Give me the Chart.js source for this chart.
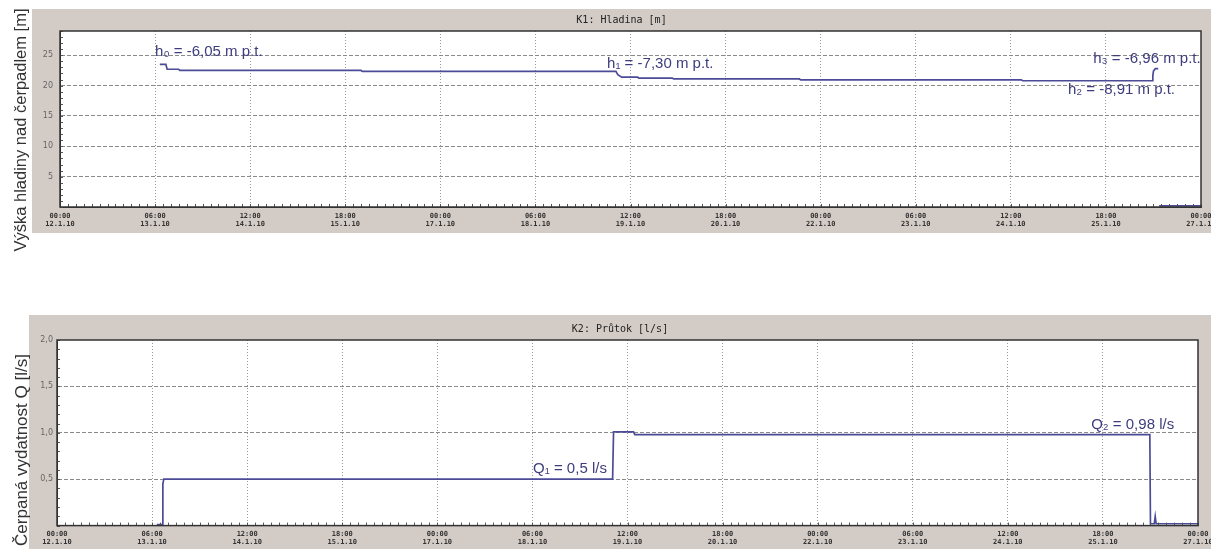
<!DOCTYPE html>
<html>
<head>
<meta charset="utf-8">
<script src="https://cdn.jsdelivr.net/npm/chart.js@4.4.1/dist/chart.umd.min.js"></script>
<style>
  body { margin: 0; background: #fff; width: 1211px; height: 549px; overflow: hidden; position: relative; }
  canvas { position: absolute; left: 0; }
  #c1 { top: 0; }
  #c2 { top: 290px; }
</style>
</head>
<body>
<canvas id="c1" width="1211" height="265"></canvas>
<canvas id="c2" width="1211" height="259"></canvas>
<script>
// x axis = hours since 12.1.10 00:00, labelled every 30 h
const tickTimes = ['00:00', '06:00', '12:00', '18:00', '00:00', '06:00', '12:00', '18:00', '00:00', '06:00', '12:00', '18:00', '00:00'];
const tickDates = ['12.1.10', '13.1.10', '14.1.10', '15.1.10', '17.1.10', '18.1.10', '19.1.10', '20.1.10', '22.1.10', '23.1.10', '24.1.10', '25.1.10', '27.1.10'];

// K1: water level above the pump [m]
const levelHours  = [31.5, 33.4, 33.8, 37.4, 37.8, 95.0, 95.4, 175.4, 176.0, 177.2, 182.2, 182.6, 193.2, 193.6, 233.3, 233.7, 303.3, 303.7, 344.6, 344.8, 345.0, 345.6, 346.5, 346.6, 346.8, 360];
const levelValues = [23.5, 23.5, 22.7, 22.7, 22.5, 22.5, 22.35, 22.35, 21.8, 21.4, 21.4, 21.25, 21.25, 21.1, 21.1, 20.95, 20.95, 20.8, 20.8, 21.6, 22.4, 22.8, 22.8, null, 0.2, 0.2];

// K2: pumped flow [l/s]
const flowHours  = [31.5, 33.2, 33.4, 33.7, 175.3, 175.6, 181.9, 182.3, 344.8, 345.0, 346.2, 346.5, 346.8, 360];
const flowValues = [0.01, 0.01, 0.45, 0.5, 0.5, 1.01, 1.01, 0.98, 0.98, 0.02, 0.02, 0.1, 0.02, 0.02];

const levelNotes = ['h₀ = -6,05 m p.t.', 'h₁ = -7,30 m p.t.', 'h₃ = -6,96 m p.t.', 'h₂ = -8,91 m p.t.'];
const flowNotes = ['Q₁ = 0,5 l/s', 'Q₂ = 0,98 l/s'];

const isStep = (v, s) => Math.abs(v / s - Math.round(v / s)) < 1e-6;

const plotFrame = {
  id: 'plotFrame',
  beforeDraw(chart, args, o) {
    const { ctx, chartArea: a } = chart;
    ctx.save();
    ctx.fillStyle = '#d3cbc6';
    ctx.fillRect(o.panelLeft, o.panelTop, chart.width - o.panelLeft, o.panelBottom - o.panelTop);
    ctx.fillStyle = '#fff';
    ctx.fillRect(a.left, a.top, a.width, a.height);
    ctx.fillStyle = '#222';
    ctx.font = '10px "DejaVu Sans Mono"';
    ctx.textAlign = 'center';
    ctx.textBaseline = 'middle';
    ctx.fillText(o.title, (o.panelLeft + chart.width) / 2, o.titleY);
    ctx.restore();
  },
  afterDraw(chart, args, o) {
    const { ctx, chartArea: a, scales: { x, y } } = chart;
    ctx.save();
    // small inward ticks
    ctx.strokeStyle = '#555';
    ctx.lineWidth = 1;
    ctx.beginPath();
    for (let v = x.min; v <= x.max + 1e-9; v += 2.5) {
      const px = Math.round(x.getPixelForValue(v)) + 0.5;
      ctx.moveTo(px, a.bottom);
      ctx.lineTo(px, a.bottom - 3);
    }
    for (let i = 0; i * o.yMinor <= y.max + 1e-9; i++) {
      const py = Math.round(y.getPixelForValue(i * o.yMinor)) + 0.5;
      ctx.moveTo(a.left, py);
      ctx.lineTo(a.left + 3, py);
    }
    ctx.stroke();
    // frame
    ctx.strokeStyle = '#333';
    ctx.lineWidth = 1.5;
    ctx.strokeRect(a.left, a.top, a.width, a.height);
    // notes
    ctx.fillStyle = '#3d3d7e';
    ctx.font = '15px "Liberation Sans"';
    ctx.textAlign = 'left';
    ctx.textBaseline = 'middle';
    o.notes.forEach((t, i) => {
      const p = o.notePos[i];
      ctx.fillText(t, x.getPixelForValue(p[0]), y.getPixelForValue(p[1]));
    });
    // outer y title
    ctx.translate(o.yTitleX, o.yTitleY);
    ctx.rotate(-Math.PI / 2);
    ctx.fillStyle = '#333';
    ctx.font = o.yTitleSize + 'px "Liberation Sans"';
    ctx.textAlign = 'center';
    ctx.fillText(o.yTitle, 0, 0);
    ctx.restore();
  }
};

function makeChart(id, c) {
  const data = c.hours.map((h, i) => ({ x: h, y: c.values[i] }));
  new Chart(document.getElementById(id), {
    type: 'line',
    data: {
      datasets: [{
        data: data,
        borderColor: '#4b4b98',
        borderWidth: 1.7,
        pointRadius: 0,
        tension: 0,
        spanGaps: false
      }]
    },
    options: {
      responsive: false,
      animation: false,
      layout: { padding: { top: c.top, right: c.right, left: 0, bottom: 0 } },
      plugins: {
        legend: { display: false },
        tooltip: { enabled: false },
        plotFrame: c.frame
      },
      scales: {
        x: {
          type: 'linear',
          min: 0,
          max: 360,
          afterFit: s => { s.height = c.xHeight; s.paddingLeft = 0; s.paddingRight = 0; },
          grid: {
            drawTicks: false,
            color: ctx => (ctx.tick && isStep(ctx.tick.value, 30) && ctx.tick.value > 0 && ctx.tick.value < 360) ? '#9a9a9a' : 'rgba(0,0,0,0)',
            borderDash: [1, 2]
          },
          border: { display: true, color: '#333', width: 1, dash: [1, 2] },
          ticks: {
            stepSize: 2.5,
            autoSkip: false,
            maxRotation: 0,
            minRotation: 0,
            padding: 5,
            color: '#333',
            font: { family: 'DejaVu Sans Mono', size: 7, weight: 'bold', lineHeight: 1.15 },
            callback: v => isStep(v, 30) ? [tickTimes[Math.round(v / 30)], tickDates[Math.round(v / 30)]] : ''
          }
        },
        y: {
          min: 0,
          max: c.yMax,
          afterFit: s => { s.width = c.yWidth; s.paddingTop = 0; s.paddingBottom = 0; },
          grid: {
            drawTicks: false,
            color: ctx => (ctx.tick && ctx.tick.value > 0 && ctx.tick.value < c.yMax - 1e-9 && isStep(ctx.tick.value, c.yStep)) ? '#8a8a8a' : 'rgba(0,0,0,0)',
            borderDash: [4, 2]
          },
          border: { display: true, color: '#333', width: 1, dash: [4, 2] },
          ticks: {
            stepSize: c.yStep,
            padding: c.yPad,
            color: '#666',
            font: { family: 'DejaVu Sans', size: 8 },
            callback: v => (v > 0 && isStep(v, c.yStep)) ? c.yFmt(v) : ''
          }
        }
      }
    },
    plugins: [plotFrame]
  });
}

makeChart('c1', {
  hours: levelHours, values: levelValues,
  top: 31, right: 10, xHeight: 58, yWidth: 60, yPad: 7,
  yMax: 29, yStep: 5,
  yFmt: v => String(v),
  frame: {
    panelLeft: 32, panelTop: 9, panelBottom: 233, titleY: 20,
    title: 'K1: Hladina [m]',
    yTitle: 'Výška hladiny nad čerpadlem [m]', yTitleX: 21, yTitleY: 130, yTitleSize: 16.5,
    yMinor: 1,
    notes: levelNotes,
    notePos: [[30, 25.6], [172.6, 23.6], [326, 24.4], [318, 19.3]]
  }
});

makeChart('c2', {
  hours: flowHours, values: flowValues,
  top: 50, right: 13, xHeight: 23.4, yWidth: 57, yPad: 4,
  yMax: 2, yStep: 0.5,
  yFmt: v => v.toFixed(1).replace('.', ','),
  frame: {
    panelLeft: 29, panelTop: 25, panelBottom: 259, titleY: 39,
    title: 'K2: Průtok [l/s]',
    yTitle: 'Čerpaná vydatnost Q [l/s]', yTitleX: 22, yTitleY: 160, yTitleSize: 17,
    yMinor: 0.1,
    notes: flowNotes,
    notePos: [[150.2, 0.61], [326.3, 1.086]]
  }
});
</script>
</body>
</html>
